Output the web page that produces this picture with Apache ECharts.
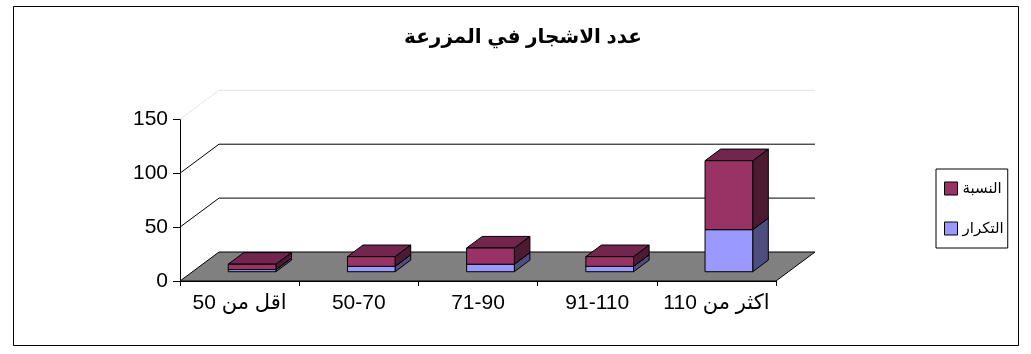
<!DOCTYPE html>
<html>
<head>
<meta charset="utf-8">
<script src="https://cdn.jsdelivr.net/npm/echarts@6/dist/echarts.min.js"></script>
<style>
html,body{margin:0;padding:0;background:#fff;}
#chart{width:1031px;height:354px;}
</style>
</head>
<body>
<div id="chart"></div>
<script>
var titleText = 'عدد الاشجار في المزرعة';
var categories = ['اقل من 50', '50-70', '71-90', '91-110', 'اكثر من 110'];
var seriesNames = ['التكرار', 'النسبة'];
var freqValues = [2, 5, 7, 5, 39];
var pctValues = [5, 9, 15, 9, 64];
var yTicks = [0, 50, 100, 150];

var FONT = '"Liberation Sans", Arial, "DejaVu Sans", sans-serif';
var DX = 39, DY = -29;        // floor depth projection
var FRONT = 0.32, DEPTH = 0.40, BAR_W = 0.40;

var chart = echarts.init(document.getElementById('chart'), null, {renderer: 'canvas'});

function boxRenderer(front, top, side) {
  return function (params, api) {
    var i = api.value(0), v = api.value(1), b = api.value(2);
    var c0 = api.coord([i, b]), c1 = api.coord([i, v]);
    var bw = api.size([1, 0])[0];
    var w = bw * BAR_W;
    var ox = FRONT * DX, oy = FRONT * DY, ddx = DEPTH * DX, ddy = DEPTH * DY;
    var xl = c0[0] - w / 2 + ox, xr = xl + w, yb = c0[1] + oy, yt = c1[1] + oy;
    var st = {stroke: '#000', lineWidth: 1, lineJoin: 'miter'};
    return {
      type: 'group',
      children: [
        {type: 'polygon', shape: {points: [[xr, yb], [xr, yt], [xr + ddx, yt + ddy], [xr + ddx, yb + ddy]]}, style: Object.assign({fill: side}, st)},
        {type: 'polygon', shape: {points: [[xl, yt], [xr, yt], [xr + ddx, yt + ddy], [xl + ddx, yt + ddy]]}, style: Object.assign({fill: top}, st)},
        {type: 'rect', shape: {x: xl, y: yt, width: w, height: yb - yt}, style: Object.assign({fill: front}, st)}
      ]
    };
  };
}

function wallRenderer(params, api) {
  var cs = params.coordSys;
  var x0 = cs.x, x1 = cs.x + cs.width;
  var y0 = api.coord([0, yTicks[0]])[1];
  var children = [];
  children.push({type: 'polygon', shape: {points: [[x0, y0], [x1, y0], [x1 + DX, y0 + DY], [x0 + DX, y0 + DY]]},
    style: {fill: '#808080', stroke: '#000', lineWidth: 1}});
  for (var k = 1; k < yTicks.length; k++) {
    var y = api.coord([0, yTicks[k]])[1];
    var last = k === yTicks.length - 1;
    children.push({type: 'polyline', shape: {points: [[x0, y], [x0 + DX, y + DY], [x1 + DX, y + DY]]},
      style: {stroke: last ? '#e4e4e4' : '#000', lineWidth: 1, fill: null}});
  }
  return {type: 'group', children: children};
}

var freqData = categories.map(function (c, i) { return [i, freqValues[i], 0]; });
var pctData = categories.map(function (c, i) { return [i, freqValues[i] + pctValues[i], freqValues[i]]; });

chart.setOption({
  backgroundColor: '#fff',
  animation: false,
  title: {
    text: titleText, left: 523, top: 27, textAlign: 'center', padding: 0,
    textStyle: {fontSize: 20, fontWeight: 'bold', color: '#000', fontFamily: FONT}
  },
  legend: {
    data: [seriesNames[1], seriesNames[0]],
    orient: 'vertical', left: 936, top: 169,
    padding: [12, 4, 12, 8], itemGap: 25, itemWidth: 13, itemHeight: 13,
    borderColor: '#000', borderWidth: 1, icon: 'rect',
    itemStyle: {borderColor: '#000', borderWidth: 1},
    textStyle: {fontSize: 15, color: '#000', fontFamily: FONT}
  },
  grid: {left: 180, right: 255, top: 119.3, bottom: 73, containLabel: false},
  xAxis: {
    type: 'category', data: categories, boundaryGap: true,
    axisLine: {show: true, lineStyle: {color: '#000', width: 1}},
    axisTick: {show: true, length: 5, inside: false, alignWithLabel: false, lineStyle: {color: '#000'}},
    axisLabel: {color: '#000', fontSize: 21, margin: 12, fontFamily: FONT, interval: 0},
    splitLine: {show: false}
  },
  yAxis: {
    type: 'value', min: 0, max: 150, interval: 50,
    axisLine: {show: true, lineStyle: {color: '#000', width: 1}},
    axisTick: {show: true, length: 7, lineStyle: {color: '#000'}},
    axisLabel: {color: '#000', fontSize: 21, margin: 12, fontFamily: FONT},
    splitLine: {show: false}
  },
  graphic: [{
    type: 'rect', shape: {x: 13.5, y: 6.5, width: 1005, height: 339},
    style: {fill: null, stroke: '#000', lineWidth: 1}, z: 100, silent: true
  }],
  series: [
    {type: 'custom', name: 'wall', data: [[0, 0]], renderItem: wallRenderer, z: 1, clip: false, silent: true,
      encode: {x: 0, y: 1}},
    {type: 'custom', name: seriesNames[0], data: freqData, renderItem: boxRenderer('#9999FF', '#7373C0', '#4D4D80'),
      encode: {x: 0, y: 1}, z: 3, clip: false,
      itemStyle: {color: '#9999FF', borderColor: '#000', borderWidth: 1}},
    {type: 'custom', name: seriesNames[1], data: pctData, renderItem: boxRenderer('#993366', '#73264D', '#4D1A33'),
      encode: {x: 0, y: 1}, z: 4, clip: false,
      itemStyle: {color: '#993366', borderColor: '#000', borderWidth: 1}}
  ]
});
</script>
</body>
</html>
